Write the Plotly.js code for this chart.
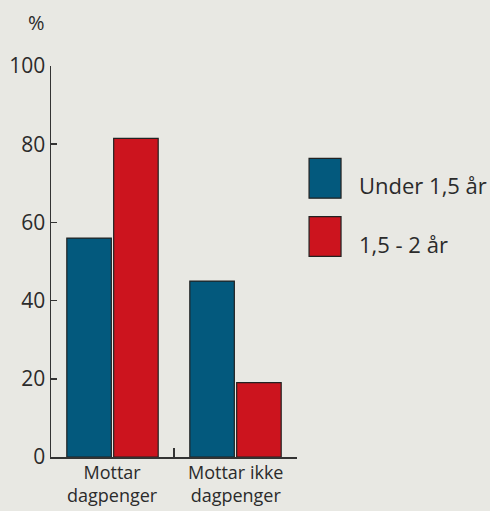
<!DOCTYPE html>
<html>
<head>
<meta charset="utf-8">
<script src="https://cdn.plot.ly/plotly-3.0.1.min.js"></script>
<style>
  html, body { margin: 0; padding: 0; background: #e8e8e3; }
  #graph { width: 490px; height: 511px; }
</style>
</head>
<body>
<div id="graph"></div>
<script>
// categories and values (percent)
var categories = ["Mottar dagpenger", "Mottar ikke dagpenger"];
var catLabels = ["Mottar<br>dagpenger", "Mottar ikke<br>dagpenger"];
var seriesNames = ["Under 1,5 år", "1,5 - 2 år"];
var under15 = [56, 45];
var from15to2 = [81.5, 19];
var yTicks = [0, 20, 40, 60, 80, 100];

var BLUE = "#03597d";
var RED = "#cc141e";
var TEXT = "#2b2b2b";
var FONT = "Open Sans, sans-serif";

function drawGraph() {
    var data, layout, annotations, shapes;

    data = [
        {
            x: categories, y: under15, type: "bar", name: seriesNames[0],
            marker: {color: BLUE, line: {color: "#222", width: 1.2}},
            hoverinfo: "none"
        },
        {
            x: categories, y: from15to2, type: "bar", name: seriesNames[1],
            marker: {color: RED, line: {color: "#222", width: 1.2}},
            hoverinfo: "none"
        }
    ];

    // two-line category labels under each group
    annotations = [];
    for (var i = 0; i < categories.length; i++) {
        annotations.push({
            x: categories[i], xref: "x", y: 0, yref: "paper",
            yanchor: "top", yshift: -2, showarrow: false, borderpad: 0,
            text: catLabels[i], font: {family: FONT, size: 18, color: TEXT}
        });
    }
    // "%" unit label above the axis
    annotations.push({
        x: -0.06, xref: "paper", y: 1.11, yref: "paper",
        showarrow: false, text: "%", xanchor: "center", yanchor: "middle",
        font: {family: FONT, size: 20, color: TEXT}
    });

    // legend: big swatches on the right
    var swatchY = [[0.662, 0.764], [0.513, 0.6146]];
    var swatchColors = [BLUE, RED];
    shapes = [];
    for (var j = 0; j < seriesNames.length; j++) {
        shapes.push({
            type: "rect", xref: "paper", yref: "paper",
            x0: 1.049, x1: 1.179, y0: swatchY[j][0], y1: swatchY[j][1],
            fillcolor: swatchColors[j], line: {color: "#222", width: 1.2}
        });
        annotations.push({
            x: 1.245, xref: "paper", y: (swatchY[j][0] + swatchY[j][1]) / 2 - 0.018, yref: "paper",
            xanchor: "left", yanchor: "middle", showarrow: false,
            text: seriesNames[j], font: {family: FONT, size: 22, color: TEXT}
        });
    }

    layout = {
        width: 490, height: 511,
        margin: {l: 51, r: 193, t: 66, b: 54},
        paper_bgcolor: "#e8e8e3",
        plot_bgcolor: "#e8e8e3",
        showlegend: false,
        barmode: "group",
        bargap: 0.238,
        bargroupgap: 0.05,
        font: {family: FONT, color: TEXT},
        xaxis: {
            type: "category",
            range: [-0.5, 1.5],
            showline: true, linecolor: "#333", linewidth: 1.5,
            ticks: "inside", tickson: "boundaries", ticklen: 9, tickcolor: "#333", tickwidth: 1.5,
            showticklabels: false, showgrid: false, zeroline: false
        },
        yaxis: {
            range: [0, 100],
            tickvals: yTicks,
            showline: true, linecolor: "#333", linewidth: 1.5,
            ticks: "inside", ticklen: 6, tickcolor: "#333", tickwidth: 1.5,
            tickfont: {family: FONT, size: 21, color: TEXT},
            showgrid: false, zeroline: false
        },
        annotations: annotations,
        shapes: shapes
    };

    Plotly.newPlot("graph", data, layout, {displayModeBar: false, staticPlot: true});
}

drawGraph();
</script>
</body>
</html>
